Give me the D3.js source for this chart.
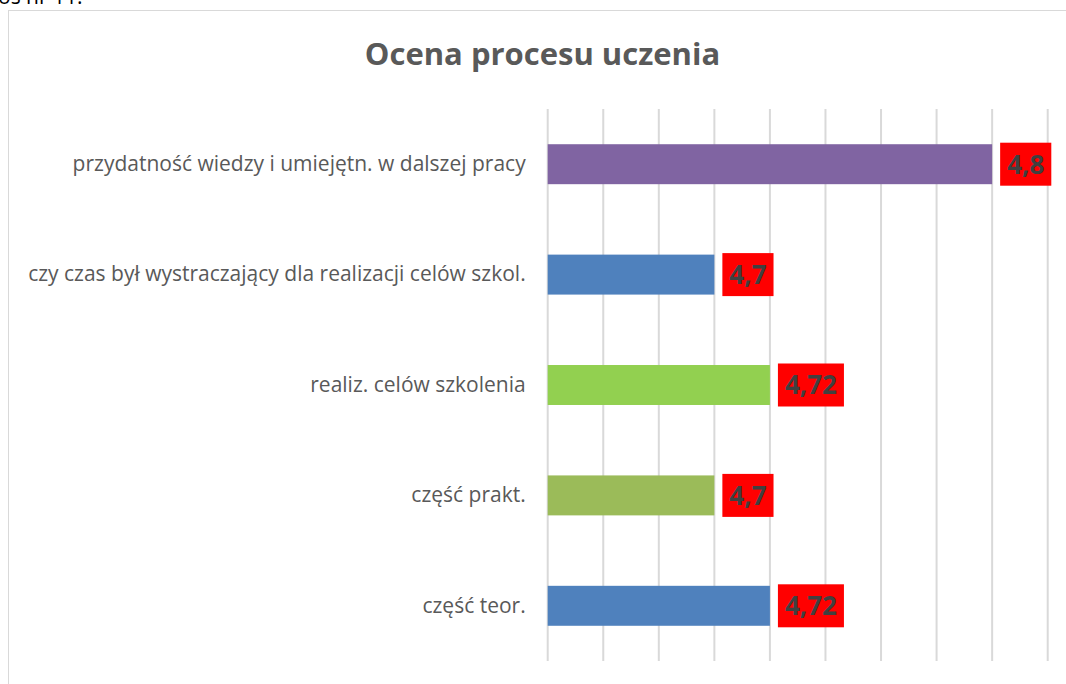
<!DOCTYPE html>
<html>
<head>
<meta charset="utf-8">
<script src="https://cdn.jsdelivr.net/npm/d3@7"></script>
<style>
  html, body { margin: 0; padding: 0; background: #fff; overflow: hidden; }
  svg { display: block; }
</style>
</head>
<body>
<svg id="chart" width="1066" height="684"></svg>
<script>
// Data
const categories = [
  "przydatność wiedzy i umiejętn. w dalszej pracy",
  "czy czas był wystraczający dla realizacji celów szkol.",
  "realiz. celów szkolenia",
  "część prakt.",
  "część teor."
];
const values = [4.8, 4.7, 4.72, 4.7, 4.72];
const valueLabels = ["4,8", "4,7", "4,72", "4,7", "4,72"];
const barColors = ["#8064a2", "#4f81bd", "#92d050", "#9bbb59", "#4f81bd"];
const gridTicks = [4.64, 4.66, 4.68, 4.70, 4.72, 4.74, 4.76, 4.78, 4.80, 4.82];
const title = "Ocena procesu uczenia";
const topText = "os nr 11.";

const svg = d3.select("#chart");
const W = 1066, H = 684;

// text above the chart frame (cropped like in the source page)
svg.append("text")
  .attr("x", -2).attr("y", 4)
  .attr("font-family", "Open Sans, sans-serif")
  .attr("font-size", 21)
  .attr("fill", "#000")
  .text(topText);

// chart frame
svg.append("rect")
  .attr("x", 8.5).attr("y", 10.5)
  .attr("width", W + 20).attr("height", H + 20)
  .attr("fill", "#fff")
  .attr("stroke", "#d9d9d9")
  .attr("stroke-width", 1);

// title
svg.append("text")
  .attr("x", 542.5).attr("y", 65)
  .attr("text-anchor", "middle")
  .attr("font-family", "Open Sans, sans-serif")
  .attr("font-weight", "bold")
  .attr("font-size", 31)
  .attr("fill", "#595959")
  .text(title);

const plot = { left: 547.7, right: 1047.7, top: 109, bottom: 661 };

const x = d3.scaleLinear()
  .domain([gridTicks[0], gridTicks[gridTicks.length - 1]])
  .range([plot.left, plot.right]);

const y = d3.scaleBand()
  .domain(categories)
  .range([plot.top, plot.bottom])
  .paddingInner(0.638)
  .paddingOuter(0.319);

// gridlines
svg.append("g")
  .selectAll("line")
  .data(gridTicks)
  .join("line")
  .attr("x1", d => x(d)).attr("x2", d => x(d))
  .attr("y1", plot.top).attr("y2", plot.bottom)
  .attr("stroke", "#d9d9d9")
  .attr("stroke-width", 2);

// category axis labels
const yAxis = d3.axisLeft(y).tickSize(0).tickPadding(22);
const ga = svg.append("g")
  .attr("transform", `translate(${plot.left},0)`)
  .call(yAxis);
ga.select(".domain").remove();
ga.selectAll("text")
  .attr("font-family", "Open Sans, sans-serif")
  .attr("font-size", 21)
  .attr("fill", "#595959");

// bars
svg.append("g")
  .selectAll("rect")
  .data(values)
  .join("rect")
  .attr("x", x(gridTicks[0]))
  .attr("y", (d, i) => y(categories[i]))
  .attr("width", d => x(d) - x(gridTicks[0]))
  .attr("height", y.bandwidth())
  .attr("fill", (d, i) => barColors[i]);

// value labels with red boxes
const lab = svg.append("g")
  .selectAll("g")
  .data(values)
  .join("g")
  .attr("transform", (d, i) => `translate(${x(d) + 8},${y(categories[i]) + y.bandwidth() / 2})`);

lab.append("text")
  .attr("x", 7)
  .attr("dy", "0.36em")
  .attr("font-family", "Open Sans, sans-serif")
  .attr("font-weight", "bold")
  .attr("font-size", 26)
  .attr("fill", "#404040")
  .text((d, i) => valueLabels[i]);

lab.each(function() {
  const g = d3.select(this);
  const t = g.select("text");
  const w = t.node().getComputedTextLength();
  g.insert("rect", "text")
    .attr("x", 0)
    .attr("y", -21.5)
    .attr("width", w + 14)
    .attr("height", 43)
    .attr("fill", "#ff0000");
});
</script>
</body>
</html>
